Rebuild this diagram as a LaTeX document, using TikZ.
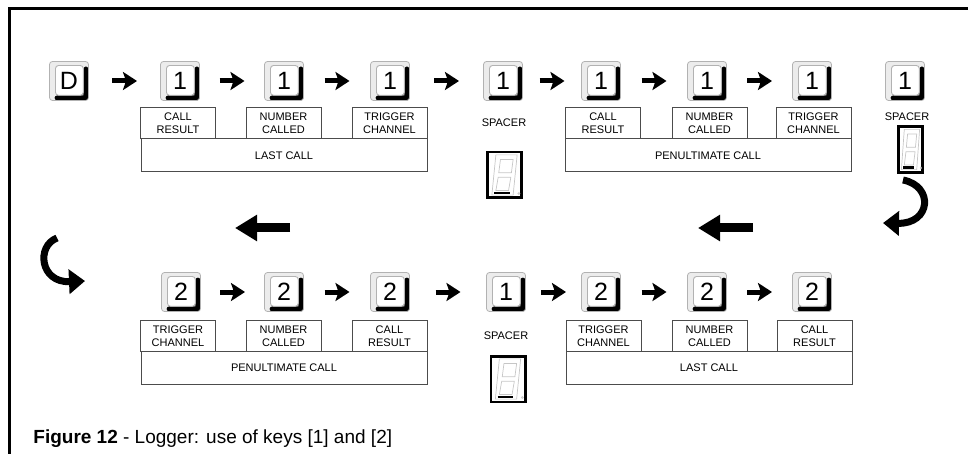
\documentclass[tikz,border=0pt]{standalone}
\usepackage{fontspec}
\setmainfont{Liberation Sans}
\usetikzlibrary{arrows.meta,calc}

% faint seven segment digit with the bottom bar lit
\newcommand\segdigit[2]{%
  \begin{scope}[shift={(#1.center)},scale=1.15,xscale=#2]
    \draw[gray!45,line width=.35pt] (-7.5,-17.5) -- (11,-17.5) -- (7.5,17.5) -- (-11,17.5) -- cycle
      (-3.5,-13.5) -- (7.5,-13.5) -- (6,-2) -- (-5,-2) -- cycle
      (-5.5,2) -- (5.5,2) -- (3.5,13.5) -- (-7.5,13.5) -- cycle;
    \draw[line width=1.3pt] (-9,15.5) -- (4.5,15.5);
    \fill[gray!40] (12.5,16) circle (1.3);
  \end{scope}}

\begin{document}
\begin{tikzpicture}[x=0.5pt,y=-0.5pt,>={Stealth[length=7pt,width=9pt,inset=1.5pt]}]
  \tikzstyle{keycap} = [rectangle,rounded corners=1.5pt,minimum size=19.5pt,inner sep=0pt,
    fill=gray!15,draw=gray!60,line width=.4pt,font=\fontsize{12.5}{12.5}\selectfont,
    path picture={
      \fill[black] ([shift={(-2.6pt,-2.5pt)}]path picture bounding box.north east) rectangle (path picture bounding box.south east);
      \fill[black] ([shift={(2.5pt,2.6pt)}]path picture bounding box.south west) rectangle (path picture bounding box.south east);
      \draw[fill=white,line width=.45pt] ([shift={(3pt,-2pt)}]path picture bounding box.north west) rectangle ([shift={(-2.6pt,2.6pt)}]path picture bounding box.south east);
    }]
  \tikzstyle{fieldbox} = [rectangle,draw=black!70,line width=.5pt,minimum width=37.5pt,minimum height=15.5pt,
    inner sep=0pt,align=center,font=\fontsize{5.5}{6.3}\selectfont]
  \tikzstyle{callbox} = [fieldbox,minimum width=143pt,minimum height=16.5pt]
  \tikzstyle{spacerlbl} = [inner sep=0pt,font=\fontsize{5.5}{6.3}\selectfont]
  \tikzstyle{display} = [rectangle,draw=black,line width=1.3pt,minimum width=17.2pt,minimum height=22.8pt,inner sep=0pt]
  \tikzstyle{stepto} = [line width=2.5pt,->,
    to path={($(\tikztostart.east)!.5!(\tikztotarget.west)$) +(-12.5,0) -- +(12.5,0)}]
  \tikzstyle{bigarrow} = [line width=4.5pt,-{Triangle[length=11pt,width=12.5pt]}]
  \tikzstyle{turnarrow} = [line width=3.5pt,-{Triangle[length=8pt,width=12pt]}]

  \useasboundingbox (0,0) rectangle (968,454);
  \draw[line width=1.5pt] (9,454) -- (9,9) -- (968,9);

  % first row
  \node[keycap] (kD) at (69,81) {D};
  \node[keycap] (ka1) at (180,81) {1};
  \node[keycap] (ka2) at (284,81) {1};
  \node[keycap] (ka3) at (390,81) {1};
  \node[keycap] (kas) at (503,81) {1};
  \node[keycap] (kb1) at (601,81) {1};
  \node[keycap] (kb2) at (707,81) {1};
  \node[keycap] (kb3) at (812,81) {1};
  \node[keycap] (kbs) at (905,81) {1};
  \draw[stepto] (kD) to (ka1);
  \draw[stepto] (ka1) to (ka2);
  \draw[stepto] (ka2) to (ka3);
  \draw[stepto] (ka3) to (kas);
  \draw[stepto] (kas) to (kb1);
  \draw[stepto] (kb1) to (kb2);
  \draw[stepto] (kb2) to (kb3);

  \node[callbox] (ca) at (284,155.5) {LAST CALL};
  \node[fieldbox] (fa1) at (178,123.5) {CALL\\RESULT};
  \node[fieldbox] (fa2) at (283.5,123.5) {NUMBER\\CALLED};
  \node[fieldbox] (fa3) at (389.5,123.5) {TRIGGER\\CHANNEL};
  \node[callbox] (cb) at (708,155.5) {PENULTIMATE CALL};
  \node[fieldbox] (fb1) at (603,123.5) {CALL\\RESULT};
  \node[fieldbox] (fb2) at (709.5,123.5) {NUMBER\\CALLED};
  \node[fieldbox] (fb3) at (813.5,123.5) {TRIGGER\\CHANNEL};

  \node[spacerlbl] (sa) at (504,123) {SPACER};
  \node[display] (da) at (504.5,175) {};
  \segdigit{da}{1}
  \node[spacerlbl] (sb) at (907,117) {SPACER};
  \node[display,minimum width=12.2pt] (db) at (910.5,149.5) {};
  \segdigit{db}{.72}

  % turning round
  \coordinate (tr1) at (903,180);
  \coordinate (tr2) at (883,223);
  \draw[turnarrow] (tr1) .. controls (934,186) and (931,224) .. (tr2);
  \coordinate (ra1) at (753,228);
  \coordinate (ra2) at (698,228);
  \draw[bigarrow] (ra1) -- (ra2);
  \coordinate (la1) at (290,228);
  \coordinate (la2) at (235,228);
  \draw[bigarrow] (la1) -- (la2);
  \coordinate (tl1) at (57,238);
  \coordinate (tl2) at (85,281);
  \draw[turnarrow] (tl1) .. controls (36,246) and (40,283) .. (tl2);

  % second row
  \node[keycap] (kc1) at (181,292) {2};
  \node[keycap] (kc2) at (284,292) {2};
  \node[keycap] (kc3) at (390,292) {2};
  \node[keycap] (kcs) at (506,292) {1};
  \node[keycap] (kd1) at (601,292) {2};
  \node[keycap] (kd2) at (707,292) {2};
  \node[keycap] (kd3) at (812,292) {2};
  \draw[stepto] (kc1) to (kc2);
  \draw[stepto] (kc2) to (kc3);
  \draw[stepto] (kc3) to (kcs);
  \draw[stepto] (kcs) to (kd1);
  \draw[stepto] (kd1) to (kd2);
  \draw[stepto] (kd2) to (kd3);

  \node[callbox] (cc) at (284,367.5) {PENULTIMATE CALL};
  \node[fieldbox] (fc1) at (178,336) {TRIGGER\\CHANNEL};
  \node[fieldbox] (fc2) at (283.5,336) {NUMBER\\CALLED};
  \node[fieldbox] (fc3) at (389.5,336) {CALL\\RESULT};
  \node[callbox] (cd) at (709,367.5) {LAST CALL};
  \node[fieldbox] (fd1) at (603.5,336) {TRIGGER\\CHANNEL};
  \node[fieldbox] (fd2) at (709.5,336) {NUMBER\\CALLED};
  \node[fieldbox] (fd3) at (814.5,336) {CALL\\RESULT};

  \node[spacerlbl] (sc) at (506,336) {SPACER};
  \node[display] (dc) at (508,379) {};
  \segdigit{dc}{1}

  \node[anchor=base west,inner sep=0pt,font=\fontsize{9.5}{11}\selectfont] (cap) at (33,443)
    {\textbf{Figure 12} - Logger: use of keys [1] and [2]};
\end{tikzpicture}
\end{document}
